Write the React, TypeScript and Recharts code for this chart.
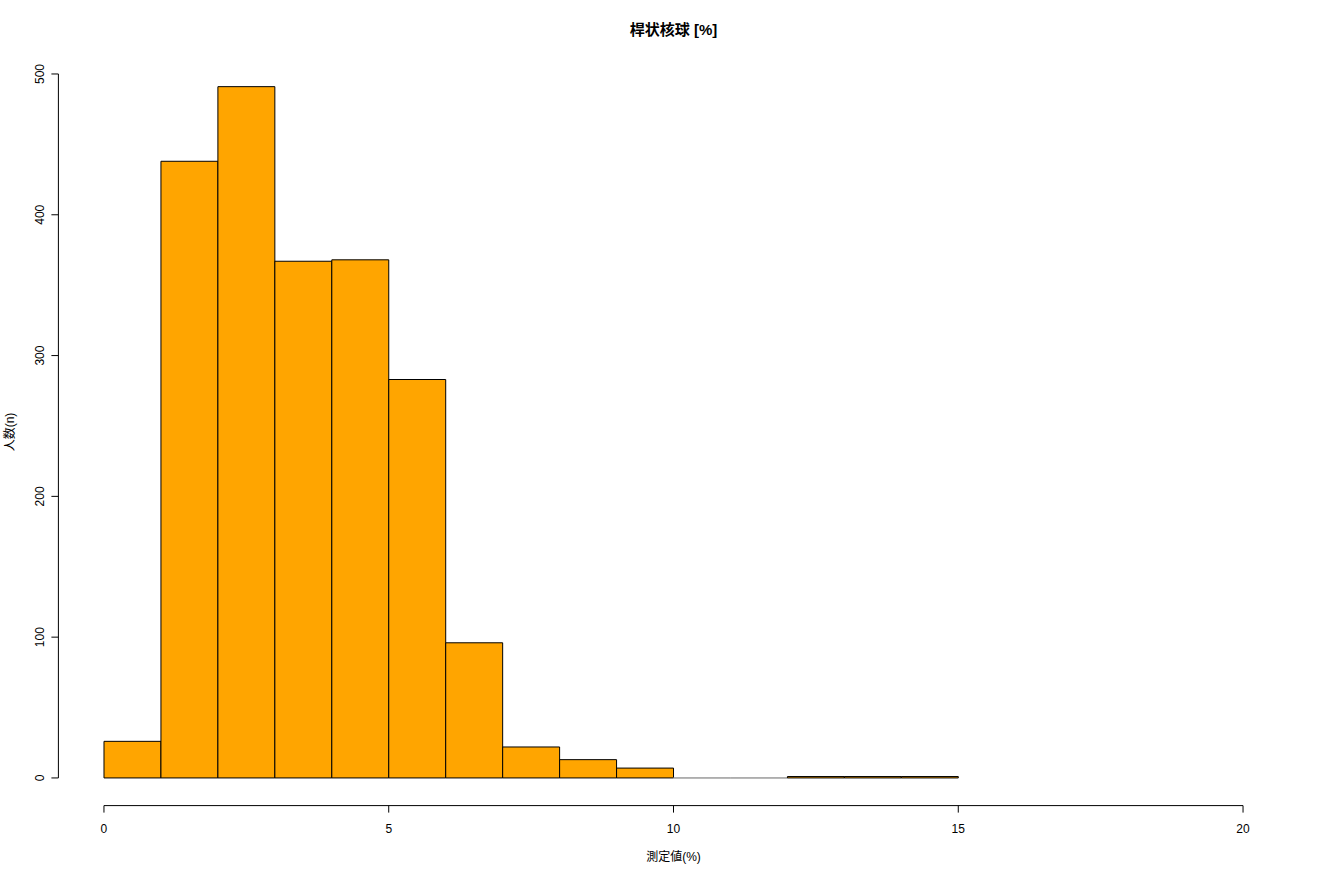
import React from 'react';
import { ComposedChart, Bar, XAxis, YAxis, ReferenceLine } from 'recharts';

// histogram bins (left edge, width 1) and counts
const binStarts = [0, 1, 2, 3, 4, 5, 6, 7, 8, 9, 10, 11, 12, 13, 14];
const counts = [26, 438, 491, 367, 368, 283, 96, 22, 13, 7, 0, 0, 1, 1, 1];
const xTicks = [0, 5, 10, 15, 20];
const yTicks = [0, 100, 200, 300, 400, 500];

const data = binStarts.map((start, i) => ({ mid: start + 0.5, count: counts[i] }));

const FONT = '"Liberation Sans", "Noto Sans CJK JP", Arial, sans-serif';

const CHART_W = 1320;
const MARGIN = { top: 59, right: 31.4, bottom: 0.4, left: 0.4 };
const Y_AXIS_W = 58;
const X_DOMAIN: [number, number] = [-0.8, 20.8];
// pixel width of one bin (1 unit on the x scale)
const BIN_PX =
  (CHART_W - MARGIN.left - MARGIN.right - Y_AXIS_W) / (X_DOMAIN[1] - X_DOMAIN[0]);

// R draws a rect even for empty bins, so draw a path instead of <rect>
function HistBar(props: any) {
  const { x, y, width, height } = props;
  if (x == null || y == null) return null;
  const h = height || 0;
  const cx = x + width / 2;
  const left = cx - BIN_PX / 2;
  return (
    <path
      d={`M${left},${y}h${BIN_PX}v${h}h${-BIN_PX}Z`}
      fill="#FFA500"
      stroke={h === 0 ? '#999' : '#000'}
      strokeWidth={1}
    />
  );
}

function YTick(props: any) {
  const { y, payload } = props;
  return (
    <text
      x={40}
      y={y}
      transform={`rotate(-90, 40, ${y})`}
      textAnchor="middle"
      dominantBaseline="central"
      fontSize={12}
      fontFamily={FONT}
      fill="#000"
    >
      {payload.value}
    </text>
  );
}

function XTick(props: any) {
  const { x, payload } = props;
  return (
    <text
      x={x}
      y={829}
      textAnchor="middle"
      dominantBaseline="central"
      fontSize={12}
      fontFamily={FONT}
      fill="#000"
    >
      {payload.value}
    </text>
  );
}

export default function App() {
  return (
    <div style={{ position: 'absolute', left: 0, top: 0, width: 1320, height: 880, background: '#fff', fontFamily: FONT }}>
      <ComposedChart
        width={CHART_W}
        height={880}
        data={data}
        barCategoryGap={0}
        barGap={0}
        margin={MARGIN}
      >
        <XAxis
          dataKey="mid"
          type="number"
          domain={X_DOMAIN}
          allowDataOverflow
          ticks={xTicks}
          axisLine={false}
          tickLine={{ stroke: '#000' }}
          tickSize={7}
          height={74}
          tick={<XTick />}
          interval={0}
        />
        <YAxis
          type="number"
          domain={[-19.64, 510.64]}
          allowDataOverflow
          ticks={yTicks}
          axisLine={false}
          tickLine={{ stroke: '#000' }}
          tickSize={7}
          width={Y_AXIS_W}
          tick={<YTick />}
          interval={0}
        />
        <Bar dataKey="count" shape={<HistBar />} isAnimationActive={false} />
        <ReferenceLine
          segment={[{ x: -0.8, y: 0 }, { x: -0.8, y: 500 }]}
          stroke="#000"
          ifOverflow="visible"
        />
        <ReferenceLine
          segment={[{ x: 0, y: -19.64 }, { x: 20, y: -19.64 }]}
          stroke="#000"
          ifOverflow="visible"
        />
      </ComposedChart>
      <div style={{ position: 'absolute', left: 0, width: 1347, top: 20, textAlign: 'center', fontSize: 15, fontWeight: 'bold', lineHeight: '20px' }}>
        桿状核球 [%]
      </div>
      <div style={{ position: 'absolute', left: 0, width: 1347, top: 848, textAlign: 'center', fontSize: 12, lineHeight: '18px' }}>
        測定値(%)
      </div>
      <div
        style={{
          position: 'absolute',
          left: 10 - 50,
          top: 432 - 9,
          width: 100,
          textAlign: 'center',
          fontSize: 12,
          lineHeight: '18px',
          transform: 'rotate(-90deg)',
        }}
      >
        人数(n)
      </div>
    </div>
  );
}
